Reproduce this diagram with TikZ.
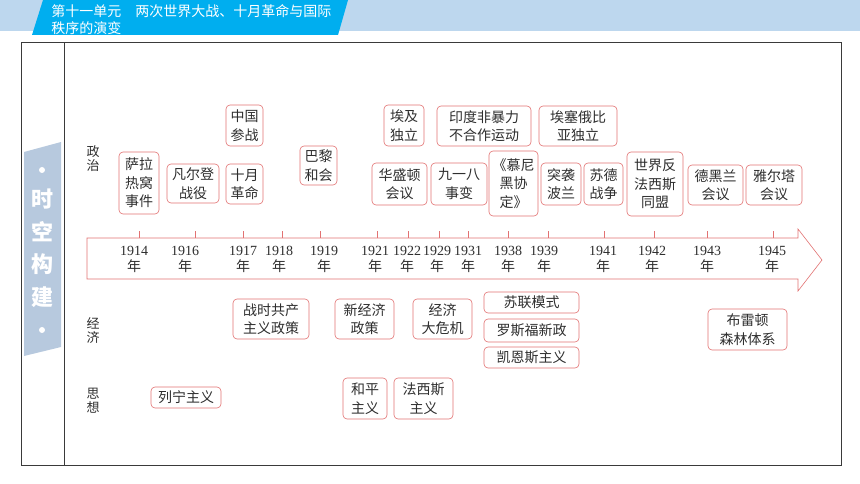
\documentclass[tikz,border=0pt]{standalone}
\usepackage{fontspec}
\setmainfont{Liberation Serif}
\newfontfamily\cjk{Noto Sans CJK SC}
\usetikzlibrary{shapes}
\definecolor{evtred}{HTML}{E27272}
\definecolor{bandblue}{HTML}{BDD7EE}
\definecolor{unitblue}{HTML}{00AEEF}
\definecolor{barblue}{HTML}{B7C9DE}
\definecolor{framegray}{HTML}{3A3A3A}
\definecolor{txtgray}{HTML}{2E2E2E}

\begin{document}
\begin{tikzpicture}[x=1pt, y=-1pt, semithick]
  \tikzstyle{evt}=[draw=evtred, fill=white, rounded corners=4pt, align=center,
    font=\cjk\fontsize{14}{18.5}\selectfont, text=txtgray, inner sep=1pt]
  \tikzstyle{yr}=[font=\fontsize{14}{16}\selectfont, align=center,
    text=txtgray, inner sep=0pt]
  \tikzstyle{rowlabel}=[font=\cjk\fontsize{13}{14}\selectfont, align=center,
    text=txtgray, inner sep=0pt]
  \useasboundingbox (0,0) rectangle (860,484);
  % header
  \fill[bandblue] (0,0) rectangle (860,31);
  \fill[unitblue] (43,0) -- (348,0) -- (338,35) -- (32,35) -- cycle;
  \node[anchor=north west, align=left, inner sep=0pt, text=white,
    font=\cjk\fontsize{14}{17}\selectfont] (unit) at (51,4)
    {第十一单元\quad 两次世界大战、十月革命与国际\\秩序的演变};
  % frame
  \draw[framegray, line width=1pt] (21,43) rectangle (841,465);
  \draw[framegray, line width=1pt] (64,43) -- (64,465);
  % side bar
  \fill[barblue] (24,152) -- (61,142) -- (61,347) -- (24,356) -- cycle;
  \fill[white] (42,170) circle (3);
  \fill[white] (42,330) circle (3);
  \node[align=center, inner sep=0pt, text=white,
    font=\cjk\bfseries\fontsize{22}{32.5}\selectfont] (bar) at (42,248)
    {时\\空\\构\\建};
  % row labels
  \node[rowlabel] (pol) at (93,159) {政\\治};
  \node[rowlabel] (eco) at (93,330) {经\\济};
  \node[rowlabel] (ide) at (93,401) {思\\想};
  % time axis
  \draw[evtred, fill=white] (87,238) -- (798,238) -- (798,229) -- (822,260)
    -- (798,291) -- (798,279) -- (87,279) -- cycle;
  \foreach \t/\lx/\tx in {1914/134/139, 1916/185/195, 1917/243/243,
      1918/279/282, 1919/324/320, 1921/375/377, 1922/407/408,
      1929/437/439, 1931/468/468, 1938/508/508, 1939/544/548,
      1941/603/604, 1942/652/654, 1943/707/707, 1945/772/773} {
    \draw[evtred] (\tx,231) -- (\tx,238);
    \node[yr] (y\t) at (\lx,259) {\t\\{\cjk 年}};
  }
  % politics
  \node[evt, minimum width=40, minimum height=62] (sarajevo) at (139,183) {萨拉\\热窝\\事件};
  \node[evt, minimum width=52, minimum height=39] (verdun) at (193,183.5) {凡尔登\\战役};
  \node[evt, minimum width=37, minimum height=41] (chinawar) at (244.5,125.5) {中国\\参战};
  \node[evt, minimum width=37, minimum height=40] (october) at (244.5,184) {十月\\革命};
  \node[evt, minimum width=37, minimum height=39] (paris) at (318.5,165.5) {巴黎\\和会};
  \node[evt, minimum width=40, minimum height=41] (egypt) at (404,125.5) {埃及\\独立};
  \node[evt, minimum width=55, minimum height=42] (washington) at (399.5,184) {华盛顿\\会议};
  \node[evt, minimum width=94, minimum height=40] (india) at (484,126) {印度非暴力\\不合作运动};
  \node[evt, minimum width=78, minimum height=40] (ethiopia) at (578,126) {埃塞俄比\\亚独立};
  \node[evt, minimum width=56, minimum height=42] (mukden) at (459,184) {九一八\\事变};
  \node[evt, minimum width=49, minimum height=65] (munich) at (513.5,183.5) {《慕尼\\黑协\\定》};
  \node[evt, minimum width=40, minimum height=42] (poland) at (561,184) {突袭\\波兰};
  \node[evt, minimum width=39, minimum height=42] (sovger) at (603.5,184) {苏德\\战争};
  \node[evt, minimum width=56, minimum height=64] (alliance) at (655,184) {世界反\\法西斯\\同盟};
  \node[evt, minimum width=55, minimum height=40] (tehran) at (715.5,185) {德黑兰\\会议};
  \node[evt, minimum width=56, minimum height=40] (yalta) at (774,185) {雅尔塔\\会议};
  % economy
  \node[evt, minimum width=76, minimum height=40] (warcomm) at (271,319) {战时共产\\主义政策};
  \node[evt, minimum width=59, minimum height=40] (nep) at (364.5,319) {新经济\\政策};
  \node[evt, minimum width=59, minimum height=40] (crisis) at (442.5,319) {经济\\大危机};
  \node[evt, minimum width=95, minimum height=21] (sovmodel) at (531.5,302.5) {苏联模式};
  \node[evt, minimum width=95, minimum height=23] (newdeal) at (531.5,330.5) {罗斯福新政};
  \node[evt, minimum width=95, minimum height=21] (keynes) at (531.5,357.5) {凯恩斯主义};
  \node[evt, minimum width=79, minimum height=41] (bretton) at (747.5,329.5) {布雷顿\\森林体系};
  % ideas
  \node[evt, minimum width=70, minimum height=21] (lenin) at (186,397.5) {列宁主义};
  \node[evt, minimum width=44, minimum height=41] (pacifism) at (365,398.5) {和平\\主义};
  \node[evt, minimum width=59, minimum height=41] (fascism) at (423.5,398.5) {法西斯\\主义};
\end{tikzpicture}
\end{document}
